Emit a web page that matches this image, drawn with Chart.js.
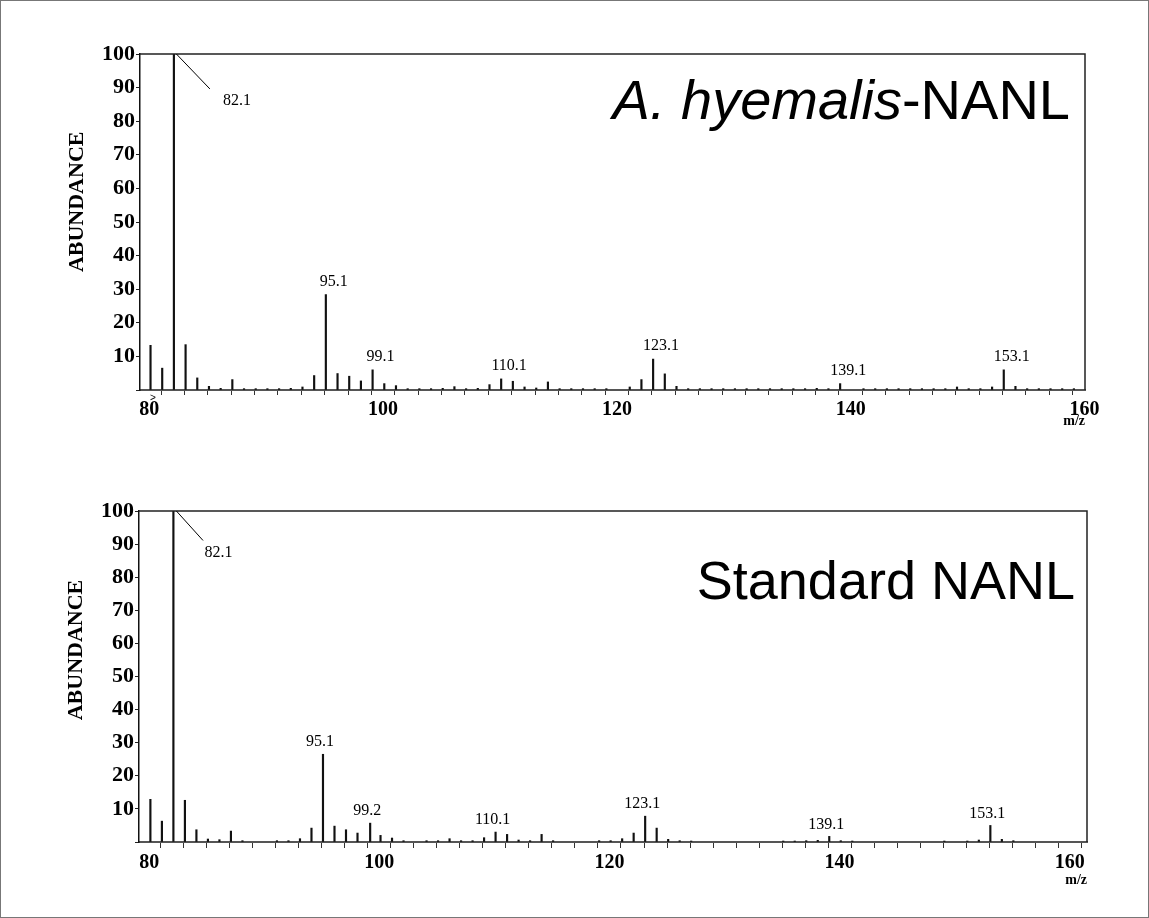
<!DOCTYPE html>
<html><head><meta charset="utf-8">
<script src="https://cdn.jsdelivr.net/npm/chart.js@4/dist/chart.umd.min.js"></script>
<style>
html,body{margin:0;padding:0;background:#fff;}
#wrap{position:relative;width:1149px;height:918px;overflow:hidden;background:#fff;}
canvas{position:absolute;left:0;}
#frame{position:absolute;left:0;top:0;width:1149px;height:918px;box-sizing:border-box;border:1px solid #777;pointer-events:none;}
</style></head><body>
<div id="wrap">
<canvas id="c1" width="1149" height="459" style="top:0"></canvas>
<canvas id="c2" width="1149" height="459" style="top:459px"></canvas>
<div id="frame"></div>
</div>
<script>
// ---------- DATA ----------
// A. hyemalis-NANL spectrum (m/z, relative abundance)
const hyemalisMz = [80.1,81.1,82.1,83.1,84.1,85.1,86.1,87.1,88.1,89.1,90.1,91.1,92.1,93.1,94.1,95.1,96.1,97.1,98.1,99.1,100.1,101.1,102.1,103.1,104.1,105.1,106.1,107.1,108.1,109.1,110.1,111.1,112.1,113.1,114.1,115.1,116.1,117.1,118.1,119.1,121.1,122.1,123.1,124.1,125.1,126.1,127.1,128.1,129.1,130.1,131.1,132.1,133.1,134.1,135.1,136.1,137.1,138.1,139.1,141.1,142.1,143.1,144.1,145.1,146.1,147.1,148.1,149.1,150.1,151.1,152.1,153.1,154.1,155.1,156.1,157.1,158.1,159.1];
const hyemalisAbund = [13.3,6.5,100,13.5,3.6,1.1,0.5,3.1,0.4,0.4,0.4,0.4,0.5,0.9,4.3,28.4,4.9,4.1,2.7,6.0,1.9,1.3,0.4,0.4,0.4,0.5,1.0,0.4,0.5,1.6,3.3,2.6,0.9,0.6,2.4,0.4,0.4,0.4,0.4,0.4,0.9,3.1,9.2,4.8,1.1,0.4,0.4,0.4,0.4,0.4,0.4,0.4,0.4,0.4,0.4,0.4,0.5,0.4,1.9,0.4,0.4,0.4,0.4,0.4,0.4,0.4,0.4,0.9,0.4,0.4,0.9,6.0,1.1,0.4,0.4,0.4,0.4,0.4];
const hyemalisLabelMz = [95.1,99.1,110.1,123.1,139.1,153.1];
const hyemalisLabelText = ['95.1','99.1','110.1','123.1','139.1','153.1'];

// Standard NANL spectrum
const standardMz = [80.1,81.1,82.1,83.1,84.1,85.1,86.1,87.1,88.1,91.1,92.1,93.1,94.1,95.1,96.1,97.1,98.1,99.2,100.1,101.1,102.1,104.1,105.1,106.1,107.1,108.1,109.1,110.1,111.1,112.1,113.1,114.1,115.1,119.1,120.1,121.1,122.1,123.1,124.1,125.1,126.1,127.1,135.1,136.1,137.1,138.1,139.1,140.1,141.1,149.1,151.1,152.1,153.1,154.1,155.1];
const standardAbund = [12.9,6.3,100,12.6,3.7,0.9,0.7,3.3,0.4,0.4,0.4,1.0,4.2,26.5,4.8,3.7,2.7,5.7,2.0,1.2,0.4,0.4,0.4,1.0,0.4,0.4,1.3,3.0,2.3,0.6,0.4,2.3,0.4,0.4,0.4,1.0,2.7,7.8,4.2,0.8,0.4,0.3,0.3,0.3,0.4,0.5,1.7,0.4,0.3,0.3,0.3,0.6,5.0,0.8,0.4];
const standardLabelMz = [95.1,99.2,110.1,123.1,139.1,153.1];
const standardLabelText = ['95.1','99.2','110.1','123.1','139.1','153.1'];

const basePeakMz = 82.1;
const basePeakText = '82.1';
const yTickValues = [10,20,30,40,50,60,70,80,90,100];
const xTickLabelValues = [80,100,120,140,160];
const yAxisTitle = 'ABUNDANCE';
const xAxisTitle = 'm/z';

// ---------- CHART BUILDER ----------
const SERIF = '"Liberation Serif", "Times New Roman", serif';
const SANS = '"Liberation Sans", Arial, sans-serif';

function makeChart(canvasId, mz, ab, labelMz, labelText, cfg) {
  const annot = {
    id: 'annot_' + canvasId,
    afterDraw(chart) {
      const {ctx, chartArea: ca, scales: {x, y}} = chart;
      ctx.save();
      // box top & right
      ctx.strokeStyle = '#222'; ctx.lineWidth = 1.5;
      ctx.beginPath();
      ctx.moveTo(ca.left, ca.top); ctx.lineTo(ca.right, ca.top); ctx.lineTo(ca.right, ca.bottom);
      ctx.stroke();
      // peak labels
      ctx.fillStyle = '#000';
      ctx.font = '16px ' + SERIF;
      ctx.textAlign = 'center'; ctx.textBaseline = 'middle';
      labelMz.forEach((m, i) => {
        const idx = mz.indexOf(m);
        const px = x.getPixelForValue(m);
        const py = y.getPixelForValue(ab[idx]);
        ctx.fillText(labelText[i], px + cfg.labelDx, py - cfg.labelDy);
      });
      // base peak leader + label
      const bp = x.getPixelForValue(basePeakMz);
      ctx.strokeStyle = '#000'; ctx.lineWidth = 1;
      ctx.beginPath();
      ctx.moveTo(bp + cfg.leader.x0, y.getPixelForValue(100));
      ctx.lineTo(bp + cfg.leader.x1, y.getPixelForValue(cfg.leader.v1));
      ctx.stroke();
      ctx.fillText(basePeakText, bp + cfg.leader.lx, y.getPixelForValue(cfg.leader.lv));
      // y axis title
      ctx.save();
      ctx.font = 'bold 22px ' + SERIF;
      ctx.translate(ca.left - 63, ca.top + (ca.bottom - ca.top) * cfg.yTitleFrac);
      ctx.rotate(-Math.PI / 2);
      ctx.textAlign = 'center'; ctx.textBaseline = 'middle';
      ctx.fillText(yAxisTitle, 0, 0);
      ctx.restore();
      // small marker under axis
      if (cfg.marker) {
        ctx.font = '10px ' + SANS;
        ctx.textAlign = 'center'; ctx.textBaseline = 'middle';
        ctx.fillText('>', x.getPixelForValue(80.3), ca.bottom + 8);
      }
      // panel title (right aligned)
      ctx.textAlign = 'left'; ctx.textBaseline = 'alphabetic';
      let total = 0;
      const segs = cfg.title.map(s => {
        ctx.font = (s.italic ? 'italic ' : '') + cfg.titleSize + 'px ' + SANS;
        const w = ctx.measureText(s.text).width; total += w; return {s, w};
      });
      let xx = cfg.titleRight - total;
      segs.forEach(({s, w}) => {
        ctx.font = (s.italic ? 'italic ' : '') + cfg.titleSize + 'px ' + SANS;
        ctx.fillText(s.text, xx, cfg.titleBaseline);
        xx += w;
      });
      ctx.restore();
    }
  };

  return new Chart(document.getElementById(canvasId), {
    type: 'bar',
    data: {
      datasets: [{
        data: mz.map((m, i) => ({x: m, y: ab[i]})),
        backgroundColor: '#111',
        borderWidth: 0,
        barThickness: 1.5
      }]
    },
    options: {
      responsive: false,
      animation: false,
      events: [],
      layout: {padding: {top: cfg.padTop, right: cfg.padRight, bottom: 0, left: 0}},
      plugins: {legend: {display: false}, tooltip: {enabled: false}},
      scales: {
        x: {
          type: 'linear', offset: false, min: cfg.xMin, max: cfg.xMax,
          afterFit: s => { s.height = cfg.xAxisHeight; },
          ticks: {
            stepSize: 2, includeBounds: false, autoSkip: false, maxRotation: 0, minRotation: 0,
            padding: 3, color: '#000',
            font: {family: SERIF, weight: 'bold', size: 20},
            callback: v => xTickLabelValues.includes(v) ? String(v) : ''
          },
          grid: {drawOnChartArea: false, drawTicks: true, tickLength: cfg.xTickLen, color: '#333', lineWidth: 1},
          border: {display: true, color: '#555', width: 2},
          title: {display: true, text: xAxisTitle, align: 'end', color: '#000',
                  font: {family: SERIF, weight: 'bold', size: 14},
                  padding: {top: 0, bottom: cfg.mzPad}}
        },
        y: {
          min: 0, max: 100,
          afterFit: s => { s.width = cfg.yAxisWidth; },
          afterBuildTicks: s => { s.ticks = [0].concat(yTickValues).map(v => ({value: v})); },
          ticks: {
            padding: 1, color: '#000',
            font: {family: SERIF, weight: 'bold', size: 22},
            callback: v => v === 0 ? '' : String(v)
          },
          grid: {drawOnChartArea: false, drawTicks: true, tickLength: 4, color: '#222'},
          border: {display: true, color: '#111', width: 1.5}
        }
      }
    },
    plugins: [annot]
  });
}

makeChart('c1', hyemalisMz, hyemalisAbund, hyemalisLabelMz, hyemalisLabelText, {
  xMin: 79.2, xMax: 160.05, padTop: 54, padRight: 64, xAxisHeight: 69, yAxisWidth: 140,
  xTickLen: 5, mzPad: 29,
  labelDx: 8, labelDy: 13,
  leader: {x0: 2.5, x1: 36, v1: 89.6, lx: 63, lv: 86.1},
  yTitleFrac: 0.44, marker: true,
  title: [{text: 'A. hyemalis', italic: true}, {text: '-NANL'}],
  titleSize: 56, titleRight: 1070, titleBaseline: 119
});

makeChart('c2', standardMz, standardAbund, standardLabelMz, standardLabelText, {
  xMin: 79.11, xMax: 161.5, padTop: 52, padRight: 62, xAxisHeight: 76, yAxisWidth: 139,
  xTickLen: 6, mzPad: 29,
  labelDx: -3, labelDy: 12,
  leader: {x0: 3, x1: 29.6, v1: 91.1, lx: 45, lv: 87.4},
  yTitleFrac: 0.42, marker: false,
  title: [{text: 'Standard NANL'}],
  titleSize: 54, titleRight: 1075, titleBaseline: 140
});
</script>
</body></html>
